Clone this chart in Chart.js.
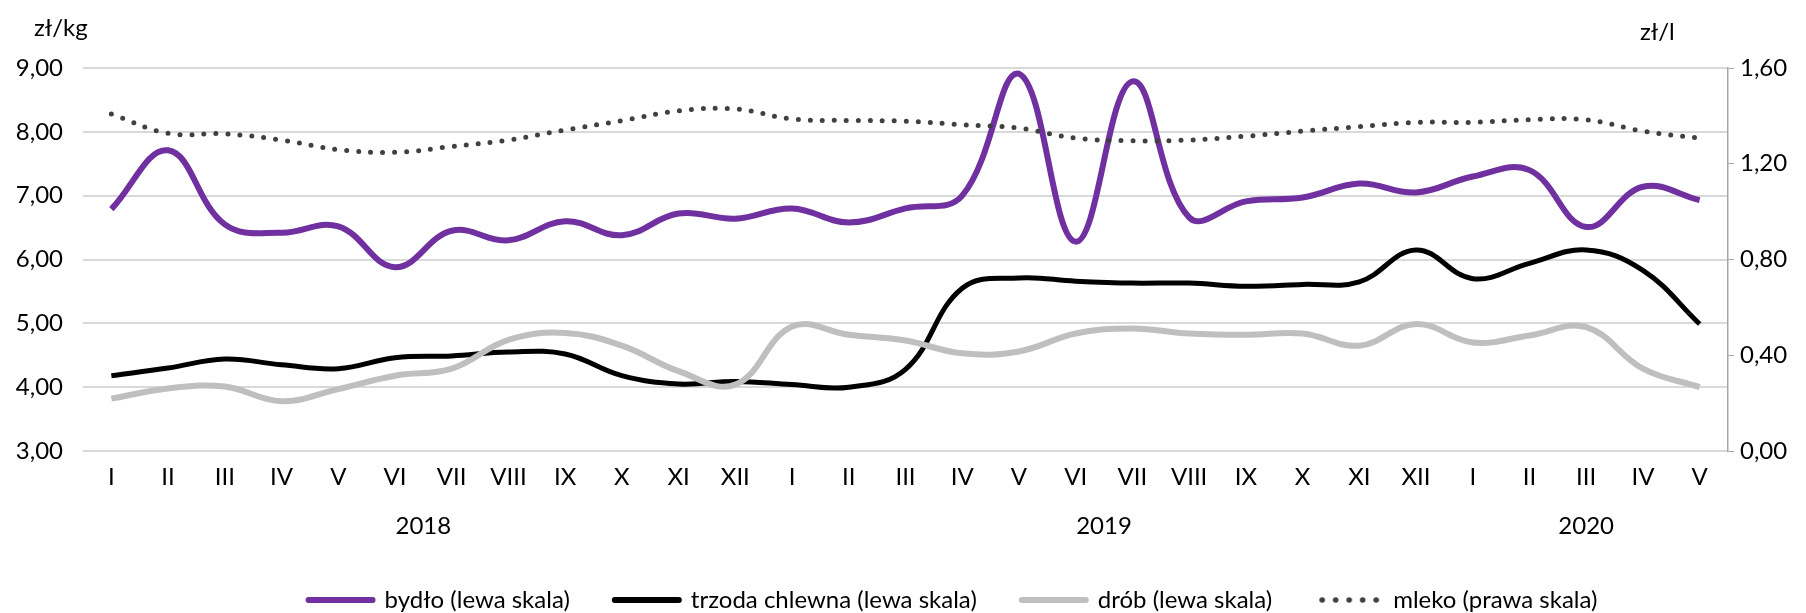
<!DOCTYPE html>
<html lang="pl">
<head>
<meta charset="UTF-8">
<title>Ceny bydła, trzody, drobiu i mleka</title>
<script src="https://cdn.jsdelivr.net/npm/chart.js@4.4.1/dist/chart.umd.min.js"></script>
<style>
    body { margin: 0; background: #fff; }
    .wrap { position: relative; width: 1806px; height: 613px; }
</style>
</head>
<body>
<div class="wrap"><canvas id="c"></canvas></div>
<script>
const months = ['I','II','III','IV','V','VI','VII','VIII','IX','X','XI','XII',
                'I','II','III','IV','V','VI','VII','VIII','IX','X','XI','XII',
                'I','II','III','IV','V'];
const years = ['2018', '2019', '2020'];
const yearStart = [0, 12, 24];
const yearEnd = [11, 23, 28];

const bydlo = [6.79, 7.71, 6.55, 6.42, 6.52, 5.88, 6.45, 6.30, 6.60, 6.38, 6.72, 6.64,
               6.80, 6.58, 6.80, 7.00, 8.91, 6.28, 8.79, 6.66, 6.91, 6.97, 7.19, 7.05,
               7.30, 7.40, 6.51, 7.14, 6.93];
const trzoda = [4.18, 4.30, 4.44, 4.35, 4.29, 4.46, 4.49, 4.55, 4.52, 4.18, 4.05, 4.09,
                4.04, 4.00, 4.28, 5.55, 5.71, 5.66, 5.63, 5.63, 5.58, 5.61, 5.65, 6.15,
                5.70, 5.94, 6.15, 5.83, 4.99];
const drob = [3.82, 3.98, 4.01, 3.78, 3.97, 4.18, 4.29, 4.74, 4.85, 4.65, 4.25, 4.04,
              4.95, 4.82, 4.73, 4.53, 4.56, 4.84, 4.92, 4.84, 4.82, 4.84, 4.65, 4.99,
              4.70, 4.81, 4.94, 4.29, 4.00];
const mleko = [1.408, 1.327, 1.325, 1.299, 1.259, 1.248, 1.272, 1.299, 1.341, 1.380, 1.421, 1.429,
               1.387, 1.381, 1.378, 1.363, 1.349, 1.307, 1.296, 1.299, 1.315, 1.336, 1.355, 1.373,
               1.373, 1.384, 1.384, 1.336, 1.307];

const FONT = "Lato, 'Open Sans', sans-serif";
const FSIZE = 24;
const comma = v => v.toFixed(2).replace('.', ',');

// small dotted sample for the milk legend entry
const dotted = document.createElement('canvas');
dotted.width = 62; dotted.height = 8;
(function () {
    const g = dotted.getContext('2d');
    g.fillStyle = '#404040';
    for (let i = 0; i < 5; i++) {
        g.beginPath();
        g.arc(4 + i * 13.5, 4, 2.8, 0, Math.PI * 2);
        g.fill();
    }
})();

// legend in the original sits a bit right of centre
const legendShift = {
    id: 'legendShift',
    afterLayout(chart) {
        chart.legend.left += 50;
        chart.legend.right += 50;
    }
};

// year captions under the month labels + unit captions above axes
const extraText = {
    id: 'extraText',
    afterDraw(chart) {
        const ctx = chart.ctx;
        const x = chart.scales.x;
        ctx.save();
        ctx.fillStyle = '#000';
        ctx.font = FSIZE + 'px ' + FONT;
        ctx.textAlign = 'center';
        ctx.textBaseline = 'middle';
        years.forEach((y, i) => {
            const px = (x.getPixelForValue(yearStart[i]) + x.getPixelForValue(yearEnd[i])) / 2;
            ctx.fillText(y, px, 526);
        });
        ctx.textAlign = 'left';
        ctx.fillText('zł/kg', 34, 28);
        ctx.fillText('zł/l', 1640, 32);
        ctx.restore();
    }
};

new Chart(document.getElementById('c'), {
    type: 'line',
    data: {
        labels: months,
        datasets: [
            { label: 'bydło (lewa skala)', data: bydlo, yAxisID: 'y',
              borderColor: '#7030A0', backgroundColor: '#7030A0', borderWidth: 6, order: 4 },
            { label: 'trzoda chlewna (lewa skala)', data: trzoda, yAxisID: 'y',
              borderColor: '#000000', backgroundColor: '#000000', borderWidth: 5, order: 3 },
            { label: 'drób (lewa skala)', data: drob, yAxisID: 'y',
              borderColor: '#BFBFBF', backgroundColor: '#BFBFBF', borderWidth: 6, order: 2 },
            { label: 'mleko (prawa skala)', data: mleko, yAxisID: 'y2',
              borderColor: '#404040', backgroundColor: '#404040', borderWidth: 5,
              borderDash: [0, 12], borderCapStyle: 'round', order: 1 }
        ]
    },
    options: {
        responsive: true,
        maintainAspectRatio: false,
        animation: false,
        layout: { padding: { top: 68, bottom: -9, left: 0, right: 0 } },
        elements: {
            point: { radius: 0 },
            line: { tension: 0.4, fill: false }
        },
        plugins: {
            tooltip: { enabled: false },
            legend: {
                position: 'bottom',
                labels: {
                    usePointStyle: true,
                    pointStyleWidth: 64,
                    padding: 45,
                    color: '#000',
                    font: { family: FONT, size: FSIZE },
                    sort: (a, b) => a.datasetIndex - b.datasetIndex,
                    generateLabels(chart) {
                        const items = Chart.defaults.plugins.legend.labels.generateLabels(chart);
                        items.forEach(it => {
                            it.pointStyle = it.datasetIndex === 3 ? dotted : 'line';
                            if (it.datasetIndex !== 3) it.lineWidth = 6;
                            it.lineCap = 'round';
                            it.lineDash = [];
                        });
                        return items;
                    }
                }
            }
        },
        scales: {
            x: {
                offset: true,
                grid: { display: false, offset: true },
                border: { display: false },
                ticks: { color: '#000', font: { family: FONT, size: FSIZE }, padding: 4,
                         autoSkip: false, maxRotation: 0 },
                afterFit: s => { s.height = 92; }
            },
            y: {
                position: 'left',
                min: 3, max: 9,
                ticks: { stepSize: 1, color: '#000', font: { family: FONT, size: FSIZE },
                         padding: 20, callback: v => comma(v) },
                grid: { color: '#D9D9D9', lineWidth: 2, drawTicks: false },
                border: { display: false },
                afterFit: s => { s.width = 83; }
            },
            y2: {
                position: 'right',
                min: 0, max: 1.6,
                ticks: { stepSize: 0.4, color: '#000', font: { family: FONT, size: FSIZE },
                         padding: 6, callback: v => comma(v) },
                grid: { drawOnChartArea: false, color: '#A6A6A6', tickLength: 6 },
                border: { display: true, color: '#A6A6A6', width: 1.5 },
                afterFit: s => { s.width = 78; }
            }
        }
    },
    plugins: [legendShift, extraText]
});
</script>
</body>
</html>
